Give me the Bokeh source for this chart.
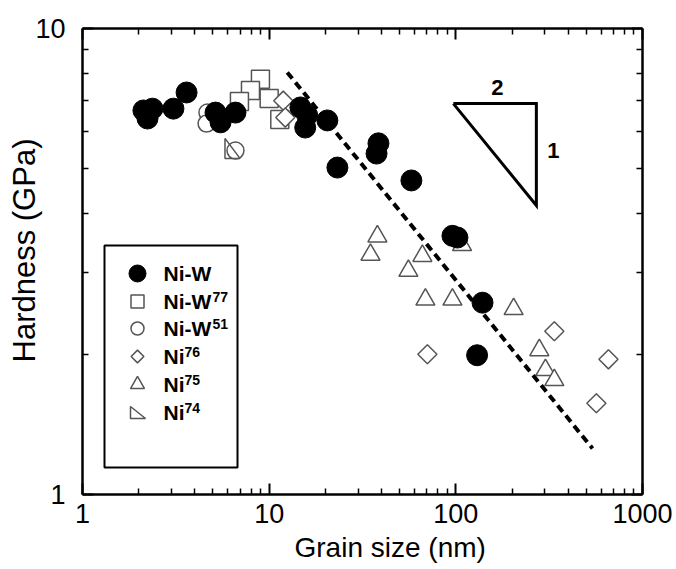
import numpy as np
from bokeh.plotting import figure
from bokeh.models import (LogAxis, FixedTicker, PrintfTickFormatter, Range1d,
                          LinearScale, Label, Title)
from bokeh.embed import file_html
from bokeh.resources import INLINE

# ---------------- data ----------------
niw_x = [2.12, 2.37, 2.23, 3.07, 3.61, 5.16, 5.49, 6.60, 14.7, 16.0, 15.6, 20.5,
         23.2, 38.5, 37.6, 57.8, 95.9, 102, 139, 130]
niw_y = [6.67, 6.73, 6.41, 6.73, 7.29, 6.60, 6.29, 6.60, 6.77, 6.51, 6.13, 6.35,
         5.03, 5.67, 5.39, 4.72, 3.59, 3.56, 2.58, 1.99]

niw77_x = [8.98, 7.94, 6.93, 10.0, 11.4]
niw77_y = [7.78, 7.36, 6.97, 7.08, 6.38]

niw51_x = [4.67, 4.62, 6.60]
niw51_y = [6.60, 6.25, 5.47]

ni76_x = [11.9, 12.2, 70.4, 337, 657, 566]
ni76_y = [7.0, 6.44, 2.0, 2.24, 1.95, 1.57]

ni75_x = [38.0, 34.9, 66.2, 55.7, 68.7, 95.9, 204, 280, 302, 337, 108]
ni75_y = [3.58, 3.27, 3.25, 3.02, 2.62, 2.62, 2.50, 2.04, 1.85, 1.76, 3.43]

ni74_x = [6.36]
ni74_y = [5.53]

fit_x = [12.5, 540]
fit_y = [8.05, 1.255]

slope_x = [97, 270, 270, 97]
slope_y = [6.9, 6.9, 4.17, 6.9]
slope_run_label = "2"
slope_rise_label = "1"

x_ticks = [1, 10, 100, 1000]
y_ticks = [1, 10]
x_minor = [m * d for d in (1, 10, 100) for m in range(2, 10)]
y_minor = list(range(2, 10))

legend_labels = ["Ni-W", "Ni-W", "Ni-W", "Ni", "Ni", "Ni"]
legend_sups = ["", "77", "51", "76", "75", "74"]

x_title = "Grain size (nm)"
y_title = "Hardness (GPa)"

# ---------------- figure ----------------
W, H = 676, 569
ML, MR, MT, MB = 82, 34, 28, 75
FW, FH = W - ML - MR, H - MT - MB

p = figure(width=W, height=H, x_axis_type="log", y_axis_type="log",
           x_range=Range1d(1, 1000), y_range=Range1d(1, 10),
           output_backend="svg", toolbar_location=None,
           min_border_left=ML, min_border_right=MR,
           min_border_top=MT, min_border_bottom=MB)
p.extra_x_ranges = {"px": Range1d(0, FW)}
p.extra_y_ranges = {"px": Range1d(0, FH)}
p.extra_x_scales = {"px": LinearScale()}
p.extra_y_scales = {"px": LinearScale()}

p.add_layout(LogAxis(), "above")
p.add_layout(LogAxis(), "right")

FONT = "Liberation Sans"
for ax in p.xaxis:
    ax.ticker = FixedTicker(ticks=x_ticks, minor_ticks=x_minor)
for ax in p.yaxis:
    ax.ticker = FixedTicker(ticks=y_ticks, minor_ticks=y_minor)
for ax in list(p.xaxis) + list(p.yaxis):
    ax.formatter = PrintfTickFormatter(format="%d")
    ax.axis_line_width = 2.5
    ax.axis_line_color = "black"
    ax.major_tick_in = 11
    ax.major_tick_out = 0
    ax.minor_tick_in = 6
    ax.minor_tick_out = 0
    ax.major_tick_line_width = 2
    ax.minor_tick_line_width = 1.5
    ax.major_tick_line_color = "black"
    ax.minor_tick_line_color = "black"
    ax.major_label_text_font = FONT
    ax.major_label_text_font_size = "27px"
    ax.major_label_text_color = "black"
    ax.axis_label = None

for ax in (p.above[0], p.right[0]):
    ax.major_label_text_font_size = "1px"
    ax.major_label_text_color = None
    ax.major_label_standoff = 0
p.below[0].major_label_standoff = 9
p.left[0].major_label_standoff = 17

p.grid.visible = False
p.outline_line_color = None
p.background_fill_color = "white"
p.border_fill_color = "white"

GRAY = "#555555"

# ---------------- data marks ----------------
p.scatter(niw77_x, niw77_y, marker="square", size=18, fill_color="white",
          line_color=GRAY, line_width=1.5)
p.scatter(niw51_x, niw51_y, marker="circle", size=17, fill_color="white",
          line_color=GRAY, line_width=1.5)
p.scatter(ni75_x, ni75_y, marker="triangle", size=19, fill_color="white",
          line_color=GRAY, line_width=1.5)

# right-triangle marker (Ni74) built around each data point
dx = 3.0 / FW   # decades per pixel
dy = 1.0 / FH
def rtri(xc, yc, w, h):
    xs = [xc * 10 ** (-w / 2 * dx), xc * 10 ** (-w / 2 * dx), xc * 10 ** (w / 2 * dx)]
    ys = [yc * 10 ** (h / 2 * dy), yc * 10 ** (-h / 2 * dy), yc * 10 ** (-h / 2 * dy)]
    return xs, ys
pxs, pys = [], []
for xv, yv in zip(ni74_x, ni74_y):
    a, b = rtri(xv, yv, 15, 20)
    pxs.append(a); pys.append(b)
p.patches(pxs, pys, fill_color="white", fill_alpha=0.0, line_color=GRAY, line_width=1.5)

p.scatter(ni76_x, ni76_y, marker="square", angle=np.pi / 4, size=13.5,
          fill_color="white", line_color=GRAY, line_width=1.5)
p.scatter(niw_x, niw_y, marker="circle", size=21, fill_color="black",
          line_color="black")

p.line(fit_x, fit_y, line_color="black", line_width=4, line_dash="8 5")
p.line(slope_x, slope_y, line_color="black", line_width=3, line_join="miter")
p.add_layout(Label(x=167, y=7.47, text=slope_run_label, text_align="center",
                   text_baseline="middle", text_font=FONT, text_font_style="bold",
                   text_font_size="22px", text_color="black"))
p.add_layout(Label(x=333, y=5.47, text=slope_rise_label, text_align="center",
                   text_baseline="middle", text_font=FONT, text_font_style="bold",
                   text_font_size="22px", text_color="black"))

# ---------------- legend (frame-pixel coordinates) ----------------
p.quad(left=22, right=155, bottom=27, top=249, x_range_name="px", y_range_name="px",
       fill_color="white", line_color="black", line_width=2)
rows = [221, 193, 166, 138, 110, 82]
mx = 55
p.scatter([mx], [rows[0]], marker="circle", size=17, fill_color="black",
          line_color="black", x_range_name="px", y_range_name="px")
p.scatter([mx], [rows[1]], marker="square", size=13, fill_color="white",
          line_color=GRAY, line_width=1.5, x_range_name="px", y_range_name="px")
p.scatter([mx], [rows[2]], marker="circle", size=13, fill_color="white",
          line_color=GRAY, line_width=1.5, x_range_name="px", y_range_name="px")
p.scatter([mx], [rows[3]], marker="square", angle=np.pi / 4, size=9, fill_color="white",
          line_color=GRAY, line_width=1.5, x_range_name="px", y_range_name="px")
p.scatter([mx], [rows[4]], marker="triangle", size=14, fill_color="white",
          line_color=GRAY, line_width=1.5, x_range_name="px", y_range_name="px")
p.patch([mx - 7, mx - 7, mx + 8], [rows[5] + 6, rows[5] - 6, rows[5] - 6],
        fill_color="white", line_color=GRAY, line_width=1.5,
        x_range_name="px", y_range_name="px")

tx = 81
text_w = {"Ni-W": 49, "Ni": 21}
for lab, sup, ry in zip(legend_labels, legend_sups, rows):
    p.add_layout(Label(x=tx, y=ry, text=lab, x_range_name="px", y_range_name="px",
                       text_align="left", text_baseline="middle", text_font=FONT,
                       text_font_style="bold", text_font_size="21px",
                       text_color="black"))
    if sup:
        p.add_layout(Label(x=tx + text_w[lab], y=ry + 5, text=sup,
                           x_range_name="px", y_range_name="px",
                           text_align="left", text_baseline="middle", text_font=FONT,
                           text_font_style="bold", text_font_size="14px",
                           text_color="black"))

# ---------------- axis titles ----------------
p.add_layout(Title(text=x_title, align="left", offset=212, standoff=8,
                   vertical_align="bottom", text_font=FONT, text_font_size="28px",
                   text_font_style="normal", text_color="black"), "below")
p.add_layout(Title(text=y_title, align="left", offset=132, standoff=-18,
                   vertical_align="bottom", text_font=FONT, text_font_size="31px",
                   text_font_style="normal", text_color="black"), "left")

open("out.html", "w").write(file_html(p, INLINE))
